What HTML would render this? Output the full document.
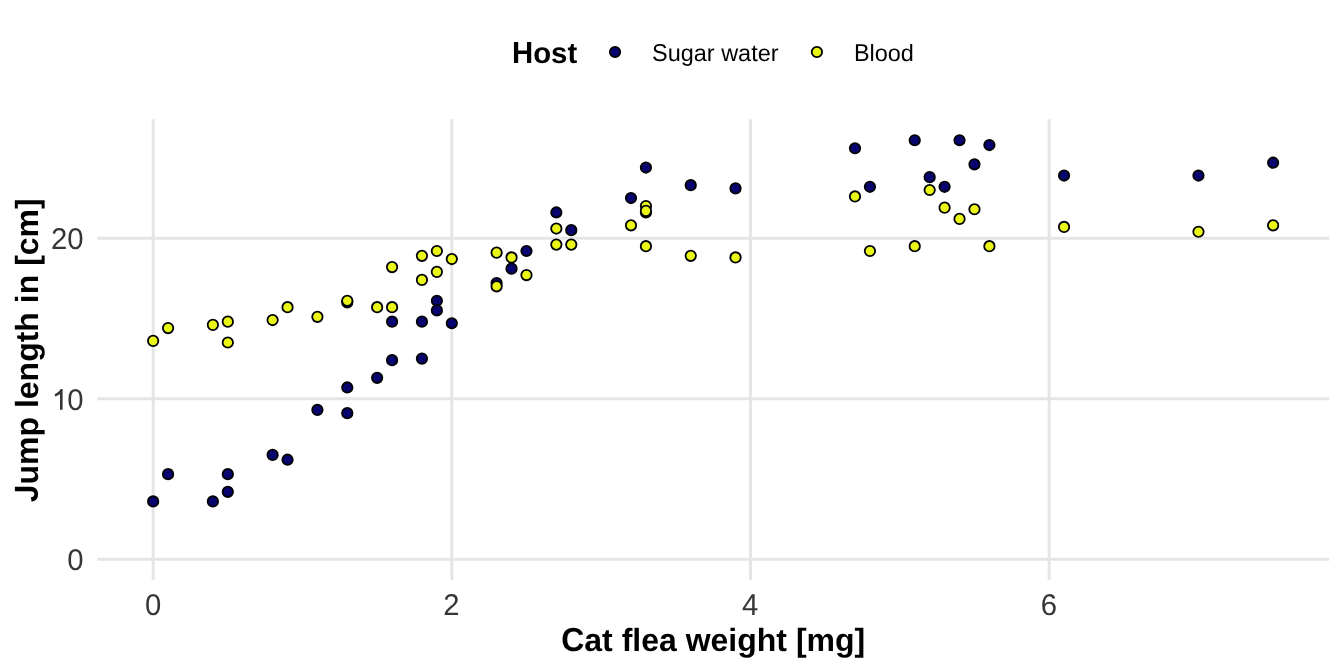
<!DOCTYPE html><html><head><meta charset="utf-8"><title>Cat flea jump plot</title><style>html,body{margin:0;padding:0;background:#fff;width:1344px;height:672px;overflow:hidden}svg{display:block;font-family:"Liberation Sans",sans-serif;will-change:transform}</style></head><body><svg width="1344" height="672" viewBox="0 0 1344 672" font-family="Liberation Sans, sans-serif" text-rendering="geometricPrecision"><g stroke="#E5E5E5" stroke-width="3.0" stroke-linecap="butt"><line x1="97.35" x2="1329.2" y1="559.23" y2="559.23"/><line x1="97.35" x2="1329.2" y1="398.70" y2="398.70"/><line x1="97.35" x2="1329.2" y1="238.16" y2="238.16"/><line x1="153.15" x2="153.15" y1="119.35" y2="579.9"/><line x1="451.81" x2="451.81" y1="119.35" y2="579.9"/><line x1="750.47" x2="750.47" y1="119.35" y2="579.9"/><line x1="1049.13" x2="1049.13" y1="119.35" y2="579.9"/></g><g stroke="#000" stroke-width="1.81"><circle cx="153.15" cy="501.44" r="5.2" fill="#08046F"/><circle cx="168.08" cy="474.15" r="5.2" fill="#08046F"/><circle cx="212.88" cy="501.44" r="5.2" fill="#08046F"/><circle cx="227.81" cy="474.15" r="5.2" fill="#08046F"/><circle cx="227.81" cy="491.81" r="5.2" fill="#08046F"/><circle cx="272.61" cy="454.88" r="5.2" fill="#08046F"/><circle cx="287.55" cy="459.70" r="5.2" fill="#08046F"/><circle cx="317.41" cy="409.93" r="5.2" fill="#08046F"/><circle cx="347.28" cy="387.46" r="5.2" fill="#08046F"/><circle cx="347.28" cy="413.14" r="5.2" fill="#08046F"/><circle cx="377.14" cy="377.83" r="5.2" fill="#08046F"/><circle cx="392.08" cy="360.17" r="5.2" fill="#08046F"/><circle cx="421.94" cy="358.56" r="5.2" fill="#08046F"/><circle cx="392.08" cy="321.64" r="5.2" fill="#08046F"/><circle cx="421.94" cy="321.64" r="5.2" fill="#08046F"/><circle cx="436.88" cy="300.77" r="5.2" fill="#08046F"/><circle cx="436.88" cy="310.40" r="5.2" fill="#08046F"/><circle cx="451.81" cy="323.24" r="5.2" fill="#08046F"/><circle cx="347.28" cy="302.37" r="5.2" fill="#08046F"/><circle cx="496.61" cy="283.11" r="5.2" fill="#08046F"/><circle cx="511.54" cy="268.66" r="5.2" fill="#08046F"/><circle cx="526.48" cy="251.00" r="5.2" fill="#08046F"/><circle cx="556.34" cy="212.47" r="5.2" fill="#08046F"/><circle cx="571.27" cy="230.13" r="5.2" fill="#08046F"/><circle cx="631.01" cy="198.03" r="5.2" fill="#08046F"/><circle cx="645.94" cy="167.52" r="5.2" fill="#08046F"/><circle cx="645.94" cy="212.47" r="5.2" fill="#08046F"/><circle cx="690.74" cy="185.18" r="5.2" fill="#08046F"/><circle cx="735.54" cy="188.39" r="5.2" fill="#08046F"/><circle cx="855.00" cy="148.26" r="5.2" fill="#08046F"/><circle cx="869.93" cy="186.79" r="5.2" fill="#08046F"/><circle cx="914.73" cy="140.23" r="5.2" fill="#08046F"/><circle cx="929.67" cy="177.16" r="5.2" fill="#08046F"/><circle cx="944.60" cy="186.79" r="5.2" fill="#08046F"/><circle cx="959.53" cy="140.23" r="5.2" fill="#08046F"/><circle cx="974.47" cy="164.31" r="5.2" fill="#08046F"/><circle cx="989.40" cy="145.05" r="5.2" fill="#08046F"/><circle cx="1064.06" cy="175.55" r="5.2" fill="#08046F"/><circle cx="1198.46" cy="175.55" r="5.2" fill="#08046F"/><circle cx="1273.13" cy="162.71" r="5.2" fill="#08046F"/><circle cx="153.15" cy="340.90" r="5.2" fill="#EAF616"/><circle cx="168.08" cy="328.06" r="5.2" fill="#EAF616"/><circle cx="212.88" cy="324.85" r="5.2" fill="#EAF616"/><circle cx="227.81" cy="321.64" r="5.2" fill="#EAF616"/><circle cx="227.81" cy="342.51" r="5.2" fill="#EAF616"/><circle cx="272.61" cy="320.03" r="5.2" fill="#EAF616"/><circle cx="287.55" cy="307.19" r="5.2" fill="#EAF616"/><circle cx="317.41" cy="316.82" r="5.2" fill="#EAF616"/><circle cx="347.28" cy="300.77" r="5.2" fill="#EAF616"/><circle cx="377.14" cy="307.19" r="5.2" fill="#EAF616"/><circle cx="392.08" cy="307.19" r="5.2" fill="#EAF616"/><circle cx="392.08" cy="267.06" r="5.2" fill="#EAF616"/><circle cx="421.94" cy="255.82" r="5.2" fill="#EAF616"/><circle cx="436.88" cy="251.00" r="5.2" fill="#EAF616"/><circle cx="451.81" cy="259.03" r="5.2" fill="#EAF616"/><circle cx="436.88" cy="271.87" r="5.2" fill="#EAF616"/><circle cx="421.94" cy="279.90" r="5.2" fill="#EAF616"/><circle cx="496.61" cy="252.61" r="5.2" fill="#EAF616"/><circle cx="511.54" cy="257.42" r="5.2" fill="#EAF616"/><circle cx="526.48" cy="275.08" r="5.2" fill="#EAF616"/><circle cx="496.61" cy="286.32" r="5.2" fill="#EAF616"/><circle cx="556.34" cy="244.58" r="5.2" fill="#EAF616"/><circle cx="571.27" cy="244.58" r="5.2" fill="#EAF616"/><circle cx="556.34" cy="228.53" r="5.2" fill="#EAF616"/><circle cx="631.01" cy="225.32" r="5.2" fill="#EAF616"/><circle cx="645.94" cy="206.05" r="5.2" fill="#EAF616"/><circle cx="645.94" cy="210.87" r="5.2" fill="#EAF616"/><circle cx="645.94" cy="246.19" r="5.2" fill="#EAF616"/><circle cx="690.74" cy="255.82" r="5.2" fill="#EAF616"/><circle cx="735.54" cy="257.42" r="5.2" fill="#EAF616"/><circle cx="855.00" cy="196.42" r="5.2" fill="#EAF616"/><circle cx="869.93" cy="251.00" r="5.2" fill="#EAF616"/><circle cx="914.73" cy="246.19" r="5.2" fill="#EAF616"/><circle cx="929.67" cy="190.00" r="5.2" fill="#EAF616"/><circle cx="944.60" cy="207.66" r="5.2" fill="#EAF616"/><circle cx="959.53" cy="218.90" r="5.2" fill="#EAF616"/><circle cx="974.47" cy="209.26" r="5.2" fill="#EAF616"/><circle cx="989.40" cy="246.19" r="5.2" fill="#EAF616"/><circle cx="1064.06" cy="226.92" r="5.2" fill="#EAF616"/><circle cx="1198.46" cy="231.74" r="5.2" fill="#EAF616"/><circle cx="1273.13" cy="225.32" r="5.2" fill="#EAF616"/></g><g fill="#363636" font-size="29.33px"><text transform="translate(83.6,570.05) scale(1,1.025)" text-anchor="end">0</text><text transform="translate(83.6,409.80) scale(1,1.025)" text-anchor="end">0</text><path d="M62.60,409.80 L60.00,409.80 L60.00,393.95 C59.00,394.80 57.00,395.90 55.30,396.50 L54.60,394.20 C56.80,393.20 59.30,391.40 60.70,388.95 L62.60,388.95 Z"/><text transform="translate(83.6,248.65) scale(1,1.025)" text-anchor="end">20</text><text transform="translate(153.20,614.6) scale(1,1.025)" text-anchor="middle">0</text><text transform="translate(451.30,614.6) scale(1,1.025)" text-anchor="middle">2</text><text transform="translate(750.10,614.6) scale(1,1.025)" text-anchor="middle">4</text><text transform="translate(1048.80,614.6) scale(1,1.025)" text-anchor="middle">6</text></g><g font-size="32.0px" fill="#000" font-weight="bold"><text transform="translate(561.19,651.20) scale(1,1.0405)">C</text><text transform="translate(584.30,651.20)">at flea weight [mg]</text></g><g font-size="32.0px" fill="#000" font-weight="bold" transform="translate(37.80,350.30) rotate(-90)"><path transform="translate(-152.00,0) scale(0.015625,-0.016258)" d="M524,-20Q305,-20 187.5,75Q70,170 31,382L324,425Q342,316 391,263.5Q440,211 526,211Q614,211 659.5,270Q705,329 705,439L705,1409L999,1409L999,446Q999,226 874,103Q749,-20 524,-20Z"/><text transform="translate(-134.20,0)">ump length in [cm]</text></g><g font-size="29.33px" fill="#000" font-weight="bold"><text transform="translate(512.00,63.00) scale(1,1.0405)">H</text><text transform="translate(533.18,63.00)">ost</text></g><g stroke="#000" stroke-width="1.81"><circle cx="615.05" cy="52.0" r="5.2" fill="#08046F"/><circle cx="816.9" cy="52.0" r="5.2" fill="#EAF616"/></g><g font-size="23.47px" fill="#000"><text transform="translate(652.00,60.60) scale(1,1.0405)">S</text><text transform="translate(667.65,60.60)">ugar water</text></g><g font-size="23.47px" fill="#000"><text transform="translate(853.90,60.60) scale(1,1.0405)">B</text><text transform="translate(869.55,60.60)">lood</text></g></svg></body></html>
